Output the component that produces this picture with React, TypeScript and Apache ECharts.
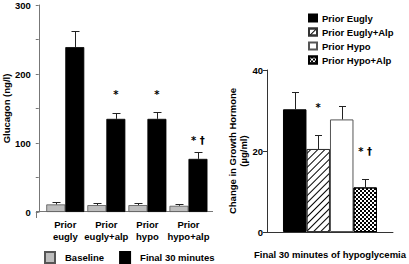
import React, { useEffect, useRef } from "react";
import * as echarts from "echarts";

const categories = ["Prior\neugly", "Prior\neugly+alp", "Prior\nhypo", "Prior\nhypo+alp"];
const baselineValues = [11, 10, 10, 9];
const baselineSE = [3, 3, 3, 3];
const finalValues = [239, 135, 135, 77];
const finalSE = [23, 9, 10, 10];
const glucagonSig = ["", "*", "*", "* \u2020"];
const glucagonSigY = [0, 171, 171, 104];

const ghNames = ["Prior Eugly", "Prior Eugly+Alp", "Prior Hypo", "Prior Hypo+Alp"];
const ghValues = [30.3, 20.5, 27.8, 11.0];
const ghSE = [4.3, 3.4, 3.4, 2.2];
const ghSig = ["", "*", "", "* \u2020"];
const ghSigY = [0, 30.8, 0, 20];

const FONT = "Liberation Sans, Arial, sans-serif";

function errorSeries(axisIndex: number, values: number[], se: number[], offsetFn: (i: number) => number, catFn: (i: number) => number, cap: number) {
  return {
    type: "custom",
    xAxisIndex: axisIndex,
    yAxisIndex: axisIndex,
    silent: true,
    z: 5,
    data: values.map((v, i) => [catFn(i), v, se[i]]),
    encode: { x: 0, y: 1 },
    renderItem: (params: any, api: any) => {
      const cat = api.value(0);
      const v = api.value(1);
      const e = api.value(2);
      const p0 = api.coord([cat, v]);
      const p1 = api.coord([cat, v + e]);
      const x = Math.round(p0[0] + offsetFn(params.dataIndex)) + 0.5;
      const style = { stroke: "#222", lineWidth: 1 };
      const yc = Math.round(p1[1]) + 0.5;
      return {
        type: "group",
        children: [
          { type: "line", shape: { x1: x, y1: p0[1], x2: x, y2: yc }, style },
          { type: "line", shape: { x1: x - cap, y1: yc, x2: x + cap, y2: yc }, style },
        ],
      };
    },
  };
}

function sigSeries(axisIndex: number, texts: string[], ys: number[], offsetFn: (i: number) => number, catFn: (i: number) => number) {
  return {
    type: "custom",
    xAxisIndex: axisIndex,
    yAxisIndex: axisIndex,
    silent: true,
    z: 6,
    data: ys.map((y, i) => [catFn(i), y]),
    encode: { x: 0, y: 1 },
    renderItem: (params: any, api: any) => {
      const p = api.coord([api.value(0), api.value(1)]);
      return {
        type: "text",
        x: p[0] + offsetFn(params.dataIndex),
        y: p[1],
        style: {
          text: texts[params.dataIndex],
          fill: "#000",
          fontFamily: "DejaVu Sans",
          fontWeight: "bold",
          fontSize: 10,
          align: "center",
          verticalAlign: "middle",
        },
      };
    },
  };
}

export default function App() {
  const ref = useRef<HTMLDivElement>(null);

  useEffect(() => {
    if (!ref.current) return;
    const chart = echarts.init(ref.current, undefined, { renderer: "svg" });
    const axisText = { fontFamily: FONT, fontWeight: "bold", fontSize: 9.5, color: "#000" };

    const ghBarW = 23.5;
    const ghColors = [
      { color: "#000", borderColor: "#000", borderWidth: 1 },
      {
        color: "#fff",
        borderColor: "#333",
        borderWidth: 1,
        decal: { symbol: "rect", symbolSize: 1, dashArrayX: [1, 0], dashArrayY: [1, 4], rotation: -Math.PI / 4, color: "#000", backgroundColor: "#fff" },
      },
      { color: "#fff", borderColor: "#555", borderWidth: 1 },
      {
        color: "#fff",
        borderColor: "#000",
        borderWidth: 1,
        decal: { symbol: "rect", symbolSize: 1, dashArrayX: [[2, 2], [0, 2, 2, 0]], dashArrayY: [2, 0], rotation: 0, color: "#000", backgroundColor: "#fff" },
      },
    ];

    const option: any = {
      animation: false,
      textStyle: { fontFamily: FONT },
      grid: [
        { left: 42, width: 167, top: 5, bottom: 52, containLabel: false },
        { left: 267, width: 130, top: 70, bottom: 29.7, containLabel: false },
      ],
      legend: [
        {
          data: ["Baseline", "Final 30 minutes"],
          left: 39,
          top: 246,
          orient: "horizontal",
          icon: "rect",
          itemWidth: 10,
          itemHeight: 11,
          itemGap: 15,
          textStyle: { ...axisText, padding: [0, 0, 0, 5] },
          selectedMode: false,
        },
        {
          data: ghNames,
          left: 303,
          top: 8,
          orient: "vertical",
          icon: "rect",
          itemWidth: 8,
          itemHeight: 7,
          itemGap: 4,
          textStyle: { ...axisText },
          selectedMode: false,
        },
      ],
      xAxis: [
        {
          type: "category",
          gridIndex: 0,
          data: categories,
          axisLine: { show: false },
          axisTick: { show: false },
          axisLabel: { ...axisText, lineHeight: 12.5, margin: 6, interval: 0 },
        },
        {
          type: "category",
          gridIndex: 1,
          data: ["Final 30 minutes of hypoglycemia"],
          axisLine: { show: true, lineStyle: { color: "#333", width: 1 } },
          axisTick: { show: false },
          axisLabel: { show: false },
          name: "Final 30 minutes of hypoglycemia",
          nameLocation: "middle",
          nameGap: 17,
          nameTextStyle: { ...axisText },
        },
      ],
      yAxis: [
        {
          type: "value",
          gridIndex: 0,
          min: 0,
          max: 300,
          interval: 50,
          offset: 6,
          splitLine: { show: false },
          axisLine: { show: true, lineStyle: { color: "#777", width: 1 } },
          axisTick: { show: true, length: 3, lineStyle: { color: "#777" } },
          axisLabel: { ...axisText, margin: 8, formatter: (v: number) => (v % 100 === 0 ? String(v) : "") },
          name: "Glucagon (ng/l)",
          nameLocation: "middle",
          nameRotate: 90,
          nameGap: 23,
          nameTextStyle: { ...axisText },
        },
        {
          type: "value",
          gridIndex: 1,
          min: 0,
          max: 40,
          interval: 20,
          splitLine: { show: false },
          axisLine: { show: true, lineStyle: { color: "#333", width: 1 } },
          axisTick: { show: true, length: 4, lineStyle: { color: "#333" } },
          axisLabel: { ...axisText, margin: 4 },
          name: "Change in Growth Hormone\n(\u00b5g/ml)",
          nameLocation: "middle",
          nameRotate: 90,
          nameGap: 17,
          nameTextStyle: { ...axisText, lineHeight: 11, align: "center" },
        },
      ],
      graphic: [
        { type: "line", shape: { x1: 36, y1: 211.5, x2: 213, y2: 211.5 }, style: { stroke: "#777", lineWidth: 1 } },
        { type: "line", shape: { x1: 36.5, y1: 211, x2: 36.5, y2: 218 }, style: { stroke: "#777", lineWidth: 1 } },
      ],
      series: [
        {
          name: "Baseline",
          type: "bar",
          xAxisIndex: 0,
          yAxisIndex: 0,
          data: baselineValues,
          barWidth: 19,
          barGap: "0%",
          itemStyle: { color: "#bdbdbd", borderColor: "#555", borderWidth: 0.8 },
        },
        {
          name: "Final 30 minutes",
          type: "bar",
          xAxisIndex: 0,
          yAxisIndex: 0,
          data: finalValues,
          barWidth: 19,
          barGap: "0%",
          itemStyle: { color: "#000", borderColor: "#000", borderWidth: 0.8 },
        },
        errorSeries(0, baselineValues, baselineSE, () => -9.5, (i) => i, 4),
        errorSeries(0, finalValues, finalSE, () => 9.5, (i) => i, 4),
        sigSeries(0, glucagonSig, glucagonSigY, () => 9.5, (i) => i),
        ...ghNames.map((n, i) => ({
          name: n,
          type: "bar",
          xAxisIndex: 1,
          yAxisIndex: 1,
          data: [ghValues[i]],
          barWidth: ghBarW,
          barGap: "0%",
          itemStyle: ghColors[i],
        })),
        errorSeries(1, ghValues, ghSE, (i) => (i - 1.5) * ghBarW, () => 0, 3.5),
        sigSeries(1, ghSig, ghSigY, (i) => (i - 1.5) * ghBarW, () => 0),
      ],
    };
    chart.setOption(option);
    return () => chart.dispose();
  }, []);

  return <div ref={ref} style={{ position: "fixed", left: 0, top: 0, width: 409, height: 264, background: "#fff" }} />;
}
